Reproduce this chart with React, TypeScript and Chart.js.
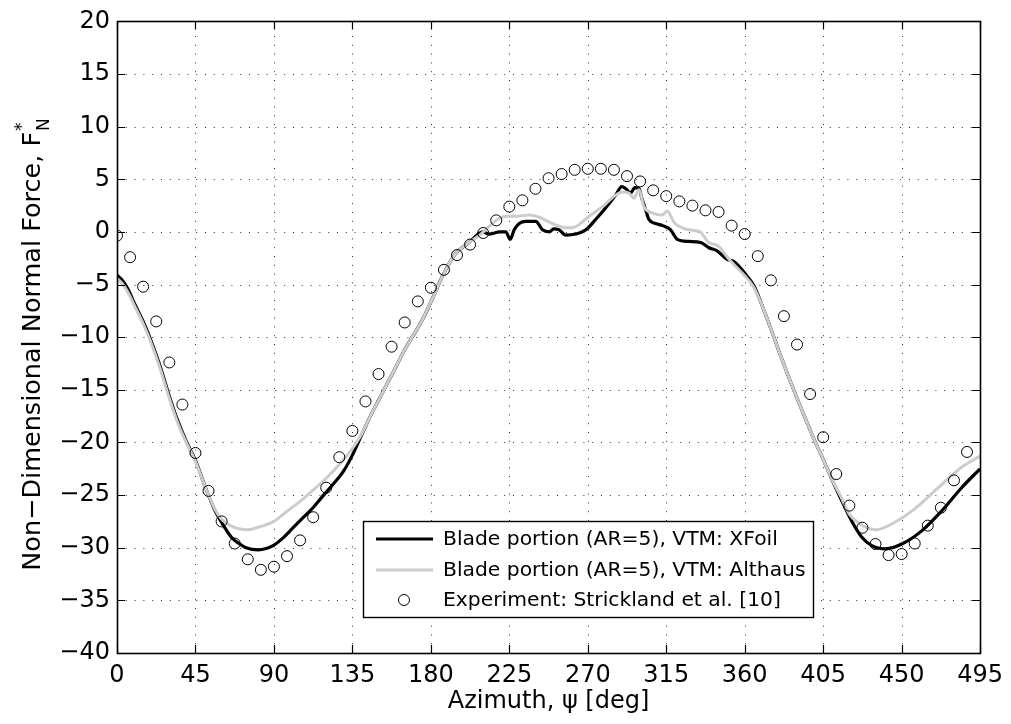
import React, { useEffect, useRef } from "react";
import { Chart, registerables } from "chart.js";

Chart.register(...registerables);

const xTickValues = [0, 45, 90, 135, 180, 225, 270, 315, 360, 405, 450, 495];
const yTickValues = [-40, -35, -30, -25, -20, -15, -10, -5, 0, 5, 10, 15, 20];

const xfoilAz = [0, 3, 6.5, 10, 15, 19, 24.6, 30, 35, 40, 45, 51, 56, 60, 65.6, 70, 74, 81, 89.5, 95, 101, 107, 112.4, 118, 123.8, 130, 135, 140, 145, 150, 155, 160, 165, 170, 175, 181, 187, 194, 202, 209.7, 213.5, 216.5, 219.2, 223, 225.5, 227.8, 230.7, 234.5, 240.2, 244, 247.9, 250.5, 253.6, 257.4, 263.1, 268.9, 274.6, 280.3, 286, 289.5, 291.8, 294.6, 297, 299.4, 301, 303.2, 305, 308.9, 313, 317.5, 321.3, 328, 334.7, 339.4, 344.2, 349.9, 353.7, 360.4, 365.2, 370, 375, 380, 385, 390, 395, 400, 405, 410, 415, 421.5, 427.2, 432.9, 440.6, 450.1, 461.5, 473, 484.4, 495];
const xfoilFn = [-4.1, -4.6, -5.5, -6.8, -8.5, -10.1, -12.7, -15.6, -18.0, -20.0, -21.7, -24.4, -26.4, -27.6, -29.0, -29.6, -30.0, -30.2, -29.8, -29.1, -28.1, -27.1, -26.2, -25.1, -24.0, -22.7, -21.2, -19.4, -17.6, -16.0, -14.4, -12.8, -11.2, -9.8, -8.4, -6.3, -4.1, -2.1, -1.0, 0.0, -0.2, -0.1, 0.0, 0.0, -0.7, 0.2, 0.8, 1.0, 1.0, 0.2, 0.0, 0.3, 0.2, -0.3, -0.2, 0.2, 1.2, 2.3, 3.5, 4.3, 4.1, 3.7, 4.2, 4.1, 3.2, 2.1, 1.2, 0.8, 0.6, 0.2, -0.7, -0.9, -1.0, -1.5, -1.8, -2.6, -2.8, -4.0, -5.1, -7.0, -9.2, -11.5, -13.7, -15.8, -17.8, -19.8, -21.6, -23.5, -25.3, -27.5, -29.0, -29.8, -30.1, -29.65, -28.4, -26.5, -24.3, -22.5];

const althausAz = [0, 3, 6.5, 10, 15, 19, 24.6, 30, 35, 40, 45, 51, 56, 60, 65, 70, 75, 80, 90, 97, 105, 112, 120, 128, 134, 140, 145, 150, 155, 160, 165, 170, 175, 181, 187, 194, 202, 208.7, 214, 219.2, 224, 229, 236.4, 242, 249.7, 257.4, 261, 265, 270.8, 278.4, 286, 290, 293.6, 296.5, 299.4, 302.2, 307, 312.7, 315.6, 319.5, 324, 328, 334, 339.4, 345, 351, 358.5, 365, 370, 375, 380, 385, 390, 395, 400, 405, 410, 415, 420, 425, 430, 435, 442.5, 456, 471, 484, 495];
const althausFn = [-4.4, -4.9, -5.8, -7.0, -8.7, -10.3, -12.9, -15.8, -18.2, -20.1, -21.8, -24.4, -26.3, -27.3, -27.9, -28.2, -28.3, -28.1, -27.5, -26.6, -25.6, -24.6, -23.4, -22.0, -20.8, -19.3, -17.6, -16.0, -14.4, -12.8, -11.2, -9.8, -8.4, -6.3, -4.1, -2.1, -1.0, -0.2, 0.6, 1.3, 1.5, 1.5, 1.6, 1.4, 0.8, 0.4, 0.4, 0.7, 1.5, 2.4, 3.5, 3.8, 3.7, 3.2, 4.0, 2.4, 1.8, 1.6, 2.0, 0.9, 0.4, 0.2, 0.05, -1.0, -1.35, -2.6, -3.9, -5.2, -7.0, -9.2, -11.5, -13.7, -15.8, -17.8, -19.8, -21.6, -23.5, -25.1, -26.8, -27.6, -28.1, -28.3, -27.9, -26.5, -24.3, -22.4, -21.3];

const expAz = [0, 7.5, 15, 22.5, 30, 37.5, 45, 52.5, 60, 67.5, 75, 82.5, 90, 97.5, 105, 112.5, 120, 127.5, 135, 142.5, 150, 157.5, 165, 172.5, 180, 187.5, 195, 202.5, 210, 217.5, 225, 232.5, 240, 247.5, 255, 262.5, 270, 277.5, 285, 292.5, 300, 307.5, 315, 322.5, 330, 337.5, 345, 352.5, 360, 367.5, 375, 382.5, 390, 397.5, 405, 412.5, 420, 427.5, 435, 442.5, 450, 457.5, 465, 472.5, 480, 487.5];
const expFn = [-0.35, -2.4, -5.2, -8.5, -12.4, -16.4, -21.0, -24.6, -27.5, -29.6, -31.1, -32.1, -31.8, -30.8, -29.3, -27.1, -24.3, -21.4, -18.9, -16.1, -13.5, -10.9, -8.6, -6.6, -5.3, -3.6, -2.2, -1.2, -0.1, 1.1, 2.4, 3.0, 4.1, 5.1, 5.5, 5.9, 6.0, 6.0, 5.9, 5.3, 4.8, 3.95, 3.4, 2.9, 2.5, 2.05, 1.9, 0.6, -0.2, -2.3, -4.6, -8.0, -10.7, -15.4, -19.5, -23.0, -26.0, -28.1, -29.65, -30.7, -30.6, -29.6, -27.9, -26.2, -23.6, -20.9];

const seriesLabels = [
  "Blade portion (AR=5), VTM: XFoil",
  "Blade portion (AR=5), VTM: Althaus",
  "Experiment: Strickland et al. [10]",
];
const xTitle = "Azimuth, \u03c8 [deg]";
const yTitleMain = "Non\u2212Dimensional Normal Force, F";
const yTitleSup = "*";
const yTitleSub = "N";

const FONT = "'DejaVu Sans', 'Liberation Sans', Arial, sans-serif";

const toPoints = (xs: number[], ys: number[]) => xs.map((x, i) => ({ x, y: ys[i] }));

const matlabPlugin = {
  id: "matlabLook",
  beforeDatasetsDraw(chart: any) {
    const { ctx, chartArea: a, scales } = chart;
    const xs = scales.x;
    const ys = scales.y;
    ctx.save();
    ctx.strokeStyle = "#333";
    ctx.lineWidth = 1;
    ctx.setLineDash([1, 7.8]);
    for (const v of xTickValues) {
      const px = Math.round(xs.getPixelForValue(v)) + 0.5;
      if (px <= a.left + 1 || px >= a.right - 1) continue;
      ctx.beginPath();
      ctx.moveTo(px, a.bottom);
      ctx.lineTo(px, a.top);
      ctx.stroke();
    }
    for (const v of yTickValues) {
      const py = Math.round(ys.getPixelForValue(v)) + 0.5;
      if (py <= a.top + 1 || py >= a.bottom - 1) continue;
      ctx.beginPath();
      ctx.moveTo(a.left, py);
      ctx.lineTo(a.right, py);
      ctx.stroke();
    }
    ctx.restore();
  },
  afterDatasetsDraw(chart: any) {
    const { ctx, chartArea: a, scales } = chart;
    const xs = scales.x;
    const ys = scales.y;
    ctx.save();
    ctx.strokeStyle = "#000";
    ctx.lineWidth = 1.2;
    ctx.setLineDash([]);
    const tl = 8;
    for (const v of xTickValues) {
      const px = Math.round(xs.getPixelForValue(v)) + 0.5;
      ctx.beginPath();
      ctx.moveTo(px, a.bottom);
      ctx.lineTo(px, a.bottom - tl);
      ctx.moveTo(px, a.top);
      ctx.lineTo(px, a.top + tl);
      ctx.stroke();
    }
    for (const v of yTickValues) {
      const py = Math.round(ys.getPixelForValue(v)) + 0.5;
      ctx.beginPath();
      ctx.moveTo(a.left, py);
      ctx.lineTo(a.left + tl, py);
      ctx.moveTo(a.right, py);
      ctx.lineTo(a.right - tl, py);
      ctx.stroke();
    }
    ctx.lineWidth = 1.6;
    ctx.strokeRect(Math.round(a.left) + 0.5, Math.round(a.top) + 0.5, Math.round(a.right - a.left), Math.round(a.bottom - a.top));

    // legend
    const lx = 363, ly = 521, lw = 450, lh = 96;
    ctx.fillStyle = "#fff";
    ctx.fillRect(lx, ly, lw, lh);
    ctx.lineWidth = 1.4;
    ctx.strokeStyle = "#000";
    ctx.strokeRect(lx + 0.5, ly + 0.5, lw, lh);
    const rows = [539, 570, 600];
    const ds = chart.data.datasets;
    ctx.font = `20.3px ${FONT}`;
    ctx.textBaseline = "middle";
    ctx.textAlign = "left";
    for (let i = 0; i < 3; i++) {
      const d = ds[i];
      const cy = rows[i];
      if (i < 2) {
        ctx.strokeStyle = d.borderColor;
        ctx.lineWidth = d.borderWidth;
        ctx.beginPath();
        ctx.moveTo(376, cy);
        ctx.lineTo(433, cy);
        ctx.stroke();
      } else {
        ctx.strokeStyle = "#000";
        ctx.lineWidth = 1;
        ctx.beginPath();
        ctx.arc(404, cy, d.pointRadius, 0, Math.PI * 2);
        ctx.stroke();
      }
      ctx.fillStyle = "#000";
      ctx.fillText(seriesLabels[i], 443, cy + 1);
    }
    ctx.restore();
  },
  afterDraw(chart: any) {
    const { ctx, chartArea: a } = chart;
    ctx.save();
    ctx.fillStyle = "#000";
    ctx.font = `24px ${FONT}`;
    ctx.textAlign = "center";
    ctx.textBaseline = "alphabetic";
    ctx.fillText(xTitle, (a.left + a.right) / 2, 708);

    // y title with super/subscript
    ctx.translate(40, 345);
    ctx.rotate(-Math.PI / 2);
    ctx.textAlign = "left";
    ctx.font = `25.5px ${FONT}`;
    const wMain = ctx.measureText(yTitleMain).width;
    ctx.font = `17px ${FONT}`;
    const wSub = Math.max(ctx.measureText(yTitleSub).width, ctx.measureText(yTitleSup).width);
    const start = -(wMain + wSub) / 2;
    ctx.font = `25.5px ${FONT}`;
    ctx.fillText(yTitleMain, start, 0);
    ctx.font = `17px ${FONT}`;
    ctx.fillText(yTitleSup, start + wMain + 1, -13);
    ctx.fillText(yTitleSub, start + wMain + 1, 9);
    ctx.restore();
  },
};

export default function App() {
  const ref = useRef<HTMLCanvasElement | null>(null);
  useEffect(() => {
    document.body.style.margin = "0";
    const canvas = ref.current;
    if (!canvas) return;
    const chart = new Chart(canvas, {
      type: "line",
      data: {
        datasets: [
          {
            label: seriesLabels[0],
            data: toPoints(xfoilAz, xfoilFn),
            borderColor: "#000000",
            borderWidth: 3.2,
            pointRadius: 0,
            cubicInterpolationMode: "monotone",
            fill: false,
            order: 2,
          },
          {
            label: seriesLabels[1],
            data: toPoints(althausAz, althausFn),
            borderColor: "#cccccc",
            borderWidth: 3,
            pointRadius: 0,
            cubicInterpolationMode: "monotone",
            fill: false,
            order: 1,
          },
          {
            label: seriesLabels[2],
            data: toPoints(expAz, expFn),
            showLine: false,
            borderColor: "#000000",
            backgroundColor: "rgba(0,0,0,0)",
            borderWidth: 1,
            pointRadius: 5.5,
            pointStyle: "circle",
            order: 0,
          },
        ],
      },
      options: {
        responsive: false,
        animation: false,
        devicePixelRatio: 1,
        layout: { padding: { left: 0, top: 17, right: 29, bottom: 0 } },
        plugins: {
          legend: { display: false },
          tooltip: { enabled: false },
        },
        scales: {
          x: {
            type: "linear",
            min: 0,
            max: 495,
            afterBuildTicks: (s: any) => {
              s.ticks = xTickValues.map((v) => ({ value: v }));
            },
            afterFit: (s: any) => {
              s.height = 71;
            },
            grid: { display: false, drawTicks: false },
            border: { display: false },
            ticks: {
              autoSkip: false,
              maxRotation: 0,
              padding: 8,
              color: "#000",
              font: { family: FONT, size: 24 },
            },
          },
          y: {
            type: "linear",
            min: -40,
            max: 20,
            afterBuildTicks: (s: any) => {
              s.ticks = yTickValues.map((v) => ({ value: v }));
            },
            afterFit: (s: any) => {
              s.width = 117;
            },
            grid: { display: false, drawTicks: false },
            border: { display: false },
            ticks: {
              padding: 7,
              color: "#000",
              font: { family: FONT, size: 24 },
              callback: (v: any) => (Number(v) < 0 ? "\u2212" + Math.abs(Number(v)) : String(v)),
            },
          },
        },
      },
      plugins: [matlabPlugin],
    });
    return () => chart.destroy();
  }, []);
  return (
    <div style={{ width: 1011, height: 724 }}>
      <canvas ref={ref} width={1011} height={724} style={{ display: "block" }} />
    </div>
  );
}
